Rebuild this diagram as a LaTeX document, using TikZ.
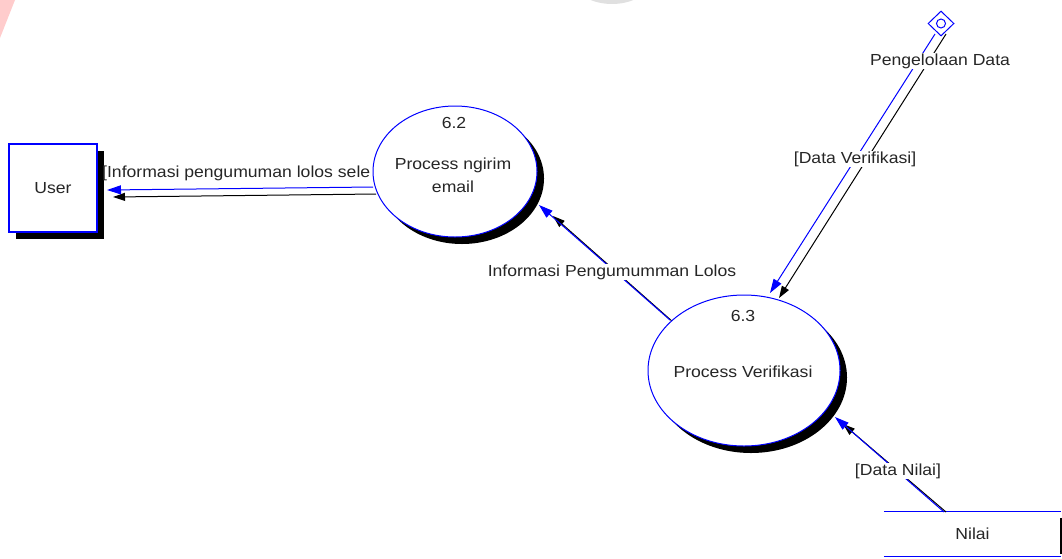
\documentclass[tikz,border=0pt]{standalone}
\usepackage{fontspec}
\setmainfont{Liberation Sans}[FakeStretch=1.1]
\usetikzlibrary{shapes.geometric,arrows.meta,shadows}
\begin{document}
\begin{tikzpicture}[x=1pt,y=-1pt,
  txt/.style={font=\fontsize{16}{18}\selectfont, inner sep=1pt, text=black!85},
  flowlbl/.style={txt, fill=white},
  proc/.style={ellipse, draw=blue, line width=1pt, fill=white, inner sep=0pt,
    drop shadow={shadow xshift=7pt, shadow yshift=-7pt, fill=black, opacity=1}},
  ent/.style={rectangle, draw=blue, line width=1.3pt, fill=white, inner sep=0pt,
    font=\fontsize{16}{18}\selectfont, text=black!85,
    drop shadow={shadow xshift=7pt, shadow yshift=-7pt, fill=black, opacity=1}},
  bl/.style={draw=blue, line width=1pt, -{Triangle[length=14pt,width=9pt]}},
  bk/.style={draw=black, line width=1pt, -{Triangle[length=12pt,width=8pt]}},
]
\useasboundingbox (0,0) rectangle (1062,558);
% faint watermark remnants
\fill[red!20] (0,0) -- (15,0) -- (0,38) -- cycle;
\fill[black!12] (612,-56) circle (60);

% entity User
\node[ent, minimum width=88pt, minimum height=88pt] (user) at (53,188) {User};

% label cut by ellipse
\node[txt, anchor=west] (l1) at (101,173) {[Informasi pengumuman lolos sele};

% named connector end points
\coordinate (u1b) at (373,187);
\coordinate (u1t) at (107,190);
\coordinate (u2b) at (376,194);
\coordinate (u2t) at (113,197);
\draw[bk] (u2b) -- (u2t);
\draw[bl] (u1b) -- (u1t);

% Data Verifikasi
\node[diamond, draw=blue, line width=1pt, fill=white, minimum width=26pt, minimum height=25pt, inner sep=0pt] (pd) at (941,23.5) {};
\node[circle, draw=blue, line width=1pt, minimum size=9pt, inner sep=0pt] (pdc) at (pd) {};
\coordinate (dv1s) at (935,34);
\coordinate (dv1t) at (770,293);
\coordinate (dv2s) at (946,34);
\coordinate (dv2t) at (779,298);
\draw[bk] (dv2s) -- (dv2t);
\draw[bl] (dv1s) -- (dv1t);
\node[flowlbl] (lpd) at (940,61) {Pengelolaan Data};
\node[flowlbl] (ldv) at (855,159) {[Data Verifikasi]};

% Informasi Pengumumman Lolos
\coordinate (ip2s) at (673,322);
\coordinate (ip2t) at (553,216);
\coordinate (ip1s) at (670,320);
\coordinate (ip1t) at (539,205);
\draw[bk] (ip2s) -- (ip2t);
\draw[bl] (ip1s) -- (ip1t);
\node[flowlbl] (lip) at (612,272) {Informasi Pengumumman Lolos};

% Nilai data store
\node[minimum width=177pt, minimum height=44pt, inner sep=0pt, font=\fontsize{16}{18}\selectfont, text=black!85] (nilai) at (972.5,534) {Nilai};
\draw[blue, line width=1.3pt] (nilai.north west) -- (nilai.north east);
\draw[blue, line width=1.3pt] (nilai.south west) -- (nilai.south east);
\draw[black, line width=2pt] ([yshift=-6pt]nilai.north east) -- ([yshift=2pt]nilai.south east);

% Data Nilai
\coordinate (dn2s) at (946,512);
\coordinate (dn2t) at (843,424);
\coordinate (dn1s) at (944,512);
\coordinate (dn1t) at (835,417);
\draw[bk] (dn2s) -- (dn2t);
\draw[bl] (dn1s) -- (dn1t);
\node[flowlbl] (ldn) at (898,471) {[Data Nilai]};

% processes
\node[proc, minimum width=164pt, minimum height=131pt] (p62) at (455,171.5) {};
\node[txt] (p62n) at (454,123) {6.2};
\node[txt, align=center, font=\fontsize{16}{23}\selectfont] (p62t) at (453,175) {Process ngirim\\email};

\node[proc, minimum width=192pt, minimum height=151pt] (p63) at (744,370.5) {};
\node[txt] (p63n) at (743,316) {6.3};
\node[txt] (p63t) at (743,372) {Process Verifikasi};
\end{tikzpicture}
\end{document}
